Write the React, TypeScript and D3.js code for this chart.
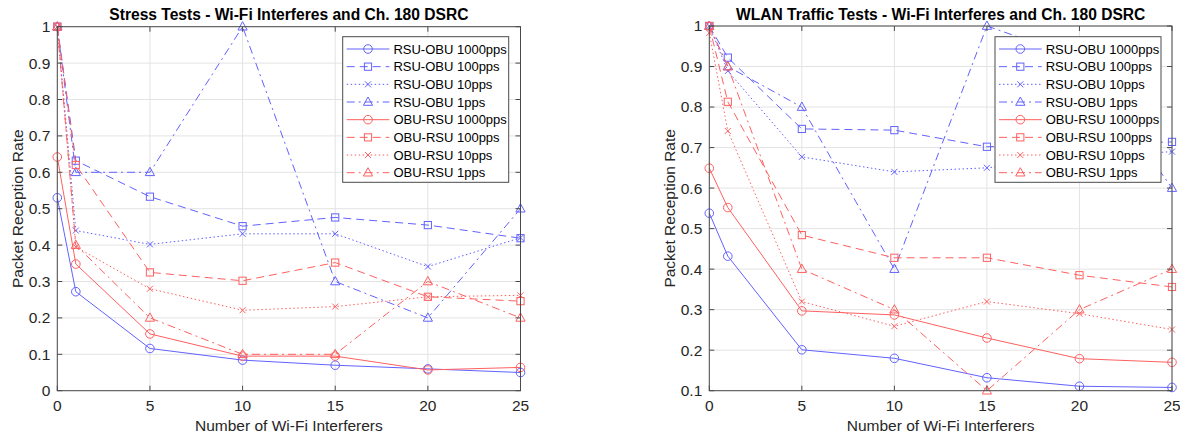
import React from 'react';
import * as d3 from 'd3';

const xValues = [0, 1, 5, 10, 15, 20, 25];
const seriesNames = [
  'RSU-OBU 1000pps', 'RSU-OBU 100pps', 'RSU-OBU 10pps', 'RSU-OBU 1pps',
  'OBU-RSU 1000pps', 'OBU-RSU 100pps', 'OBU-RSU 10pps', 'OBU-RSU 1pps',
];

// Stress tests (left)
const stressRsu1000 = [0.53, 0.272, 0.116, 0.084, 0.07, 0.06, 0.05];
const stressRsu100 = [1.0, 0.632, 0.533, 0.452, 0.476, 0.455, 0.419];
const stressRsu10 = [1.0, 0.44, 0.402, 0.431, 0.431, 0.341, 0.42];
const stressRsu1 = [1.0, 0.6, 0.6, 1.0, 0.3, 0.2, 0.5];
const stressObu1000 = [0.642, 0.348, 0.156, 0.095, 0.095, 0.057, 0.064];
const stressObu100 = [1.0, 0.62, 0.325, 0.302, 0.352, 0.258, 0.246];
const stressObu10 = [1.0, 0.395, 0.28, 0.221, 0.231, 0.258, 0.262];
const stressObu1 = [1.0, 0.4, 0.2, 0.1, 0.1, 0.3, 0.2];

// WLAN traffic tests (right)
const wlanRsu1000 = [0.538, 0.432, 0.201, 0.18, 0.132, 0.111, 0.108];
const wlanRsu100 = [1.0, 0.922, 0.746, 0.743, 0.702, 0.708, 0.714];
const wlanRsu10 = [1.0, 0.889, 0.677, 0.64, 0.65, 0.675, 0.69];
const wlanRsu1 = [1.0, 0.9, 0.8, 0.4, 1.0, 0.92, 0.6];
const wlanObu1000 = [0.649, 0.552, 0.297, 0.287, 0.23, 0.179, 0.17];
const wlanObu100 = [1.0, 0.813, 0.484, 0.428, 0.428, 0.385, 0.356];
const wlanObu10 = [0.983, 0.741, 0.32, 0.259, 0.32, 0.29, 0.251];
const wlanObu1 = [1.0, 0.9, 0.4, 0.3, 0.1, 0.3, 0.4];

const xTicks = [0, 5, 10, 15, 20, 25];
const stressYTicks = [0, 0.1, 0.2, 0.3, 0.4, 0.5, 0.6, 0.7, 0.8, 0.9, 1];
const wlanYTicks = [0.1, 0.2, 0.3, 0.4, 0.5, 0.6, 0.7, 0.8, 0.9, 1];

const BLUE = '#6262ff';
const RED = '#ff6060';
const styles = [
  { color: BLUE, dash: '', marker: 'circle' },
  { color: BLUE, dash: '8,5', marker: 'square' },
  { color: BLUE, dash: '1.5,2.5', marker: 'x' },
  { color: BLUE, dash: '8,4,2,4', marker: 'triangle' },
  { color: RED, dash: '', marker: 'circle' },
  { color: RED, dash: '8,5', marker: 'square' },
  { color: RED, dash: '1.5,2.5', marker: 'x' },
  { color: RED, dash: '8,4,2,4', marker: 'triangle' },
];

const FONT = 'Liberation Sans, Arial, sans-serif';
const AXIS = '#4a4a4a';
const TICK_FS = 15.5;

function Marker({ type, x, y, color }: { type: string; x: number; y: number; color: string }) {
  const p = { fill: 'none', stroke: color, strokeWidth: 1 };
  if (type === 'circle') return <circle cx={x} cy={y} r={4.3} {...p} />;
  if (type === 'square') return <rect x={x - 3.6} y={y - 3.6} width={7.2} height={7.2} {...p} />;
  if (type === 'x')
    return <path d={`M${x - 3},${y - 3}L${x + 3},${y + 3}M${x - 3},${y + 3}L${x + 3},${y - 3}`} {...p} />;
  return <path d={`M${x},${y - 5}L${x + 4.6},${y + 3.3}L${x - 4.6},${y + 3.3}Z`} {...p} />;
}

function Chart({
  title, data, yDomain, yTicks, left, right, top, bottom, legendX,
}: {
  title: string; data: number[][]; yDomain: [number, number]; yTicks: number[];
  left: number; right: number; top: number; bottom: number; legendX: number;
}) {
  const x = d3.scaleLinear().domain([0, 25]).range([left, right]);
  const y = d3.scaleLinear().domain(yDomain).range([bottom, top]);
  const line = d3.line<number>().x((_, i) => x(xValues[i])).y((d) => y(d));
  const legTop = 36.7;
  const legW = 166;
  const rowH = 17.67;
  const legH = 145.6;
  return (
    <g fontFamily={FONT}>
      {xTicks.map((t) => (
        <line key={'gx' + t} x1={x(t)} x2={x(t)} y1={top} y2={bottom} stroke="#e3e3e3" strokeWidth={1} />
      ))}
      {yTicks.map((t) => (
        <line key={'gy' + t} x1={left} x2={right} y1={y(t)} y2={y(t)} stroke="#e3e3e3" strokeWidth={1} />
      ))}
      {data.map((vals, si) => (
        <g key={'s' + si}>
          <path d={line(vals) || ''} fill="none" stroke={styles[si].color} strokeWidth={1} strokeDasharray={styles[si].dash} />
          {vals.map((v, i) => (
            <Marker key={i} type={styles[si].marker} x={x(xValues[i])} y={y(v)} color={styles[si].color} />
          ))}
        </g>
      ))}
      <rect x={left} y={top} width={right - left} height={bottom - top} fill="none" stroke={AXIS} strokeWidth={1} />
      {xTicks.map((t) => (
        <g key={'tx' + t}>
          <line x1={x(t)} x2={x(t)} y1={bottom} y2={bottom - 5} stroke={AXIS} />
          <line x1={x(t)} x2={x(t)} y1={top} y2={top + 5} stroke={AXIS} />
          <text x={x(t)} y={410.5} textAnchor="middle" fontSize={TICK_FS} fill="#262626">{t}</text>
        </g>
      ))}
      {yTicks.map((t) => (
        <g key={'ty' + t}>
          <line x1={left} x2={left + 5} y1={y(t)} y2={y(t)} stroke={AXIS} />
          <line x1={right} x2={right - 5} y1={y(t)} y2={y(t)} stroke={AXIS} />
          <text x={left - 7} y={y(t)} dy="0.35em" textAnchor="end" fontSize={TICK_FS} fill="#262626">{String(t)}</text>
        </g>
      ))}
      <text x={(left + right) / 2} y={20} textAnchor="middle" fontSize={15.6} fontWeight="bold" fill="#000">{title}</text>
      <text x={(left + right) / 2} y={431} textAnchor="middle" fontSize={15.5} fill="#262626">Number of Wi-Fi Interferers</text>
      <text transform={`translate(${left - 34},${(top + bottom) / 2}) rotate(-90)`} textAnchor="middle" fontSize={15.5} fill="#262626">Packet Reception Rate</text>
      <rect x={legendX} y={legTop} width={legW} height={legH} fill="#fff" stroke={AXIS} strokeWidth={1} />
      {seriesNames.map((n, i) => {
        const cy = legTop + 12.3 + i * rowH;
        return (
          <g key={'l' + i}>
            <line x1={legendX + 4} x2={legendX + 46.7} y1={cy} y2={cy} stroke={styles[i].color} strokeDasharray={styles[i].dash} />
            <Marker type={styles[i].marker} x={legendX + 25.3} y={cy} color={styles[i].color} />
            <text x={legendX + 50.7} y={cy} dy="0.36em" fontSize={13} fill="#000">{n}</text>
          </g>
        );
      })}
    </g>
  );
}

export default function App() {
  const stress = [stressRsu1000, stressRsu100, stressRsu10, stressRsu1, stressObu1000, stressObu100, stressObu10, stressObu1];
  const wlan = [wlanRsu1000, wlanRsu100, wlanRsu10, wlanRsu1, wlanObu1000, wlanObu100, wlanObu10, wlanObu1];
  return (
    <svg width={1180} height={436} style={{ position: 'absolute', left: 0, top: 0, background: '#fff' }}>
      <rect width={1180} height={436} fill="#fff" />
      <Chart title="Stress Tests - Wi-Fi Interferes and Ch. 180 DSRC" data={stress} yDomain={[0, 1]} yTicks={stressYTicks}
        left={57.3} right={520.5} top={26.7} bottom={390.7} legendX={342.7} />
      <Chart title="WLAN Traffic Tests - Wi-Fi Interferes and Ch. 180 DSRC" data={wlan} yDomain={[0.1, 1]} yTicks={wlanYTicks}
        left={709.3} right={1172} top={26} bottom={390.7} legendX={995} />
    </svg>
  );
}
